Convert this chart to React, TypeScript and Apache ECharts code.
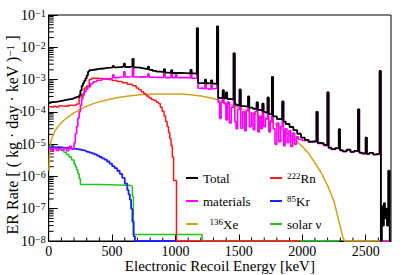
import React, { useEffect, useRef } from "react";
import * as echarts from "echarts";

const FONT = "Liberation Serif";

// [energy keV, rate] step histograms (value holds until next point)
const totalData: [number, number][] = [
  [0, 1.9e-4], [20, 2.0e-4], [40, 2.05e-4], [60, 2.1e-4], [80, 2.2e-4], [100, 2.25e-4], [120, 2.35e-4],
  [140, 2.45e-4], [160, 2.5e-4], [180, 2.6e-4], [200, 2.75e-4], [220, 2.9e-4], [240, 3.3e-4], [250, 4.6e-4],
  [260, 6.4e-4], [270, 7.8e-4], [280, 9.2e-4], [290, 1.1e-3], [300, 1.35e-3], [310, 1.75e-3], [320, 1.95e-3],
  [340, 2.05e-3], [370, 2.15e-3], [400, 2.2e-3], [430, 2.3e-3], [460, 2.35e-3], [490, 2.4e-3], [505, 2.65e-3],
  [515, 2.4e-3], [540, 2.45e-3], [570, 2.5e-3], [592, 3.1e-3], [602, 2.45e-3], [630, 2.5e-3], [660, 4.4e-3],
  [670, 2.4e-3], [700, 2.3e-3], [730, 2.2e-3], [760, 2.1e-3], [782, 2.5e-3], [792, 2.0e-3], [820, 1.85e-3],
  [850, 1.75e-3], [880, 1.7e-3], [908, 2.1e-3], [918, 1.65e-3], [940, 1.6e-3], [965, 1.95e-3], [975, 1.6e-3],
  [1000, 1.6e-3], [1040, 1.58e-3], [1080, 1.55e-3], [1118, 2.0e-3], [1128, 1.55e-3], [1150, 1.5e-3],
  [1168, 3.9e-2], [1178, 7.8e-4], [1200, 7.8e-4], [1232, 1.0e-3], [1242, 7.7e-4], [1260, 7.6e-4],
  [1280, 9.5e-4], [1290, 7.5e-4], [1310, 7.4e-4], [1327, 4.4e-2], [1337, 2.7e-4], [1355, 2.6e-4],
  [1372, 4.7e-4], [1382, 2.6e-4], [1398, 4.0e-4], [1408, 2.5e-4], [1430, 2.45e-4], [1458, 6.5e-3],
  [1468, 1.7e-4], [1485, 1.6e-4], [1505, 5e-4], [1515, 1.5e-4], [1540, 1.45e-4], [1572, 3e-4], [1582, 1.35e-4],
  [1610, 1.25e-4], [1640, 2e-4], [1650, 1.15e-4], [1670, 1.1e-4], [1685, 1.8e-4], [1695, 1.0e-4],
  [1710, 9.5e-5], [1726, 2.8e-4], [1736, 8.5e-5], [1760, 1.2e-3], [1770, 7.2e-5], [1800, 6e-5],
  [1842, 2.1e-4], [1852, 5e-5], [1870, 4.2e-5], [1900, 3.4e-5], [1930, 2.7e-5], [1960, 2.1e-5],
  [1990, 1.6e-5], [2020, 1.35e-5], [2050, 1.2e-5], [2080, 1.25e-5], [2112, 1.0e-4], [2122, 1.1e-5],
  [2150, 1.05e-5], [2170, 9.5e-6], [2198, 4e-4], [2208, 7.8e-6], [2230, 7e-6], [2260, 7.5e-6],
  [2288, 2.9e-5], [2298, 6.5e-6], [2320, 6e-6], [2350, 6.8e-6], [2380, 5.8e-6], [2410, 6.2e-6],
  [2440, 1.2e-4], [2450, 5.5e-6], [2470, 5.2e-6], [2500, 1.6e-5], [2510, 5e-6], [2530, 5.4e-6],
  [2560, 4.8e-6], [2580, 5e-6], [2610, 1.85e-3], [2620, 1e-8], [2628, 1.2e-7], [2636, 3e-8],
  [2644, 1.5e-7], [2652, 5e-8], [2660, 1e-7], [2668, 3e-8], [2678, 1.5e-6], [2690, 1e-8], [2700, 1e-8],
];

const materialsData: [number, number][] = [
  [0, 7.5e-6], [20, 6.2e-6], [40, 7.6e-6], [60, 6.4e-6], [80, 7.2e-6], [100, 6.6e-6], [120, 7.4e-6],
  [140, 6.3e-6], [160, 8.5e-6], [180, 7e-6], [200, 1.1e-5], [210, 2.1e-5], [220, 3.5e-5], [230, 6.3e-5],
  [240, 1.0e-4], [250, 1.6e-4], [260, 2.5e-4], [270, 3.3e-4], [280, 4.2e-4], [295, 5.1e-4], [310, 6e-4],
  [330, 7.5e-4], [350, 8.6e-4], [380, 9.5e-4], [420, 1.05e-3], [460, 1.1e-3], [505, 1.4e-3], [515, 1.15e-3],
  [540, 1.18e-3], [570, 1.2e-3], [592, 1.75e-3], [602, 1.2e-3], [630, 1.22e-3], [660, 2.2e-3], [670, 1.2e-3],
  [700, 1.22e-3], [740, 1.2e-3], [782, 1.5e-3], [792, 1.18e-3], [830, 1.17e-3], [870, 1.16e-3],
  [908, 1.6e-3], [918, 1.15e-3], [940, 1.15e-3], [965, 1.5e-3], [975, 1.15e-3], [1000, 1.4e-3],
  [1010, 1.15e-3], [1050, 1.15e-3], [1090, 1.12e-3], [1118, 1.5e-3], [1128, 1.1e-3], [1150, 1.1e-3],
  [1168, 3.9e-2], [1178, 5.4e-4], [1200, 5.6e-4], [1215, 5.2e-4], [1232, 8e-4], [1242, 5.3e-4],
  [1260, 5e-4], [1280, 7e-4], [1290, 5.2e-4], [1310, 5.4e-4], [1327, 4.4e-2], [1337, 2.0e-4],
  [1348, 6.3e-5], [1360, 2.0e-4], [1372, 3.6e-4], [1382, 1.8e-4], [1398, 5.6e-5], [1410, 2.0e-4],
  [1425, 4.5e-5], [1440, 1.4e-4], [1458, 6.5e-3], [1468, 5e-5], [1478, 3e-5], [1490, 1.2e-4],
  [1505, 4.5e-4], [1515, 3.1e-5], [1530, 1.0e-4], [1545, 2.6e-5], [1558, 1.1e-4], [1572, 2.8e-4],
  [1582, 3.5e-5], [1598, 9e-5], [1612, 2.8e-5], [1626, 1.0e-4], [1640, 1.8e-4], [1650, 2.4e-5],
  [1662, 7e-5], [1675, 3e-5], [1685, 1.6e-4], [1695, 3.5e-5], [1710, 6e-5], [1726, 2.6e-4],
  [1736, 2.4e-5], [1748, 5e-5], [1760, 1.2e-3], [1770, 3e-5], [1785, 1e-5], [1800, 4.5e-5],
  [1815, 1.2e-5], [1830, 3.5e-5], [1842, 2.1e-4], [1852, 9e-6], [1865, 3e-5], [1880, 1.1e-5],
  [1895, 2.6e-5], [1910, 8.5e-6], [1925, 2.2e-5], [1940, 1e-5], [1955, 1.7e-5], [1970, 1.4e-5],
  [2000, 1.3e-5], [2050, 1.15e-5], [2080, 1.2e-5], [2112, 1.0e-4], [2122, 1.05e-5], [2150, 1.0e-5],
  [2170, 9e-6], [2198, 4e-4], [2208, 7.5e-6], [2230, 6.8e-6], [2260, 7.3e-6], [2288, 2.9e-5],
  [2298, 6.3e-6], [2320, 5.9e-6], [2350, 6.6e-6], [2380, 5.7e-6], [2410, 6.1e-6], [2440, 1.2e-4],
  [2450, 5.4e-6], [2470, 5.1e-6], [2500, 1.6e-5], [2510, 4.9e-6], [2530, 5.3e-6], [2560, 4.7e-6],
  [2580, 4.9e-6], [2610, 1.85e-3], [2620, 1e-8], [2700, 1e-8],
];

const radonData: [number, number][] = [
  [0, 1.45e-4], [20, 1.4e-4], [40, 1.5e-4], [60, 1.42e-4], [80, 1.55e-4], [100, 1.48e-4], [120, 1.55e-4],
  [140, 1.5e-4], [160, 1.6e-4], [180, 1.58e-4], [200, 1.65e-4], [220, 1.75e-4], [240, 2.9e-4], [260, 3.5e-4],
  [280, 5.5e-4], [300, 6.3e-4], [320, 1.0e-3], [340, 1.1e-3], [380, 1.08e-3], [420, 1.03e-3], [460, 9.8e-4],
  [500, 9.3e-4], [540, 8.7e-4], [580, 8e-4], [620, 7.2e-4], [660, 6.4e-4], [690, 5.5e-4], [710, 4.8e-4],
  [730, 4.2e-4], [750, 3.6e-4], [770, 3.1e-4], [790, 2.7e-4], [810, 2.4e-4], [830, 2.25e-4], [850, 2.0e-4],
  [865, 1.8e-4], [880, 1.4e-4], [895, 1.05e-4], [910, 7.5e-5], [922, 5e-5], [934, 3.5e-5], [945, 2.3e-5],
  [955, 1.5e-5], [965, 9e-6], [975, 4e-6], [985, 7.5e-7], [1008, 1e-8], [1985, 1e-8],
];

const kryptonData: [number, number][] = [
  [0, 7.9e-6], [20, 8e-6], [40, 7.9e-6], [60, 8e-6], [80, 7.9e-6], [100, 7.8e-6], [120, 7.7e-6],
  [140, 7.6e-6], [160, 7.4e-6], [180, 7.3e-6], [200, 7.1e-6], [220, 6.9e-6], [240, 6.7e-6], [260, 6.4e-6],
  [280, 6.1e-6], [300, 5.8e-6], [320, 5.5e-6], [340, 5.2e-6], [360, 4.8e-6], [380, 4.4e-6], [400, 4e-6],
  [420, 3.6e-6], [440, 3.3e-6], [460, 2.9e-6], [480, 2.5e-6], [500, 2.1e-6], [520, 1.8e-6], [540, 1.5e-6],
  [560, 1.2e-6], [580, 9e-7], [600, 6e-7], [620, 3.8e-7], [630, 2.8e-7], [640, 1.9e-7], [650, 1e-7],
  [660, 4e-8], [670, 1.4e-8], [680, 1e-8], [1000, 1e-8],
];

const xenonData: [number, number][] = [
  [2, 1.5e-6], [5, 4e-6], [10, 8e-6], [20, 1.3e-5], [30, 1.7e-5], [50, 2.6e-5], [80, 3.8e-5], [120, 5.5e-5],
  [160, 7.2e-5], [200, 9.3e-5], [240, 1.15e-4], [300, 1.5e-4], [370, 1.9e-4], [450, 2.3e-4], [500, 2.55e-4],
  [550, 2.8e-4], [630, 3.1e-4], [700, 3.35e-4], [760, 3.5e-4], [850, 3.6e-4], [950, 3.6e-4], [1050, 3.55e-4],
  [1100, 3.45e-4], [1200, 3.1e-4], [1300, 2.6e-4], [1350, 2.25e-4], [1400, 1.9e-4], [1500, 1.35e-4],
  [1600, 9.5e-5], [1700, 6.8e-5], [1760, 5e-5], [1800, 3.8e-5], [1890, 2e-5], [1950, 1.3e-5], [2000, 8.5e-6],
  [2050, 5.2e-6], [2100, 2.6e-6], [2150, 1.3e-6], [2200, 5.2e-7], [2250, 1.7e-7], [2290, 4e-8],
  [2320, 1.3e-8], [2335, 1e-8], [2700, 1e-8],
];

const solarData: [number, number][] = [
  [0, 8.7e-6], [20, 8.3e-6], [40, 7.8e-6], [60, 7.3e-6], [80, 6.8e-6], [100, 6.3e-6], [120, 5.6e-6],
  [140, 4.8e-6], [160, 4e-6], [180, 3.2e-6], [200, 2.4e-6], [210, 2e-6], [220, 1.6e-6], [230, 1.2e-6],
  [240, 8.5e-7], [250, 5.6e-7], [400, 5.4e-7], [550, 5.2e-7], [650, 5e-7], [660, 2.4e-7], [668, 1.6e-8],
  [1210, 1e-8], [2294, 1e-8],
];

const seriesNames = ["Total", "materials", "222Rn", "85Kr", "136Xe", "solar ν"];
const legendRich: Record<string, string> = {
  "222Rn": "{sup|222}{t|Rn}",
  "85Kr": "{sup|85}{t|Kr}",
  "136Xe": "  {sup|136}{t|Xe}",
};
const yTickExponents = [-8, -7, -6, -5, -4, -3, -2, -1];
const xMinorTicks = [100, 200, 300, 400, 600, 700, 800, 900, 1100, 1200, 1300, 1400, 1600, 1700, 1800, 1900,
  2100, 2200, 2300, 2400, 2600];
const yMinorMultipliers = [2, 3, 4, 5, 6, 7, 8, 9];

export default function App() {
  const ref = useRef<HTMLDivElement>(null);
  useEffect(() => {
    if (!ref.current) return;
    const chart = echarts.init(ref.current, null, { renderer: "svg" });

    const yMinor: number[][] = [];
    for (let i = 0; i < yTickExponents.length - 1; i++) {
      for (const m of yMinorMultipliers) yMinor.push([0, m * Math.pow(10, yTickExponents[i])]);
    }

    const lineSeries = (name: string, data: [number, number][], color: string, width: number, step: boolean) => ({
      type: "line",
      name,
      data,
      step: step ? "end" : undefined,
      showSymbol: false,
      symbol: "none",
      clip: false,
      lineStyle: { color, width },
      itemStyle: { color },
    });

    const legendCommon = {
      orient: "vertical",
      top: 171,
      padding: 0,
      itemWidth: 12,
      itemHeight: 2,
      itemGap: 9,
      icon: "rect",
      formatter: (n: string) => legendRich[n] || n,
      textStyle: {
        fontFamily: FONT,
        fontSize: 13,
        lineHeight: 14,
        color: "#000",
        rich: {
          sup: { fontFamily: FONT, fontSize: 9, verticalAlign: "top", color: "#000" },
          t: { fontFamily: FONT, fontSize: 13, lineHeight: 14, color: "#000" },
        },
      },
    };

    chart.setOption({
      animation: false,
      backgroundColor: "#fff",
      grid: {
        left: 48.7, right: 16, top: 15, bottom: 34, show: true, borderColor: "#000", borderWidth: 1,
        outerBoundsMode: "none", containLabel: false,
      },
      xAxis: {
        type: "value",
        min: 0,
        max: 2700,
        interval: 500,
        name: "Electronic Recoil Energy [keV]",
        nameLocation: "middle",
        nameGap: 17,
        nameMoveOverlap: false,
        nameTextStyle: { fontFamily: FONT, fontSize: 15, color: "#000" },
        axisLine: { lineStyle: { color: "#000", width: 1 } },
        axisTick: { inside: true, length: 6.5, lineStyle: { color: "#000" } },
        axisLabel: {
          fontFamily: FONT, fontSize: 14, color: "#000", margin: 3, showMaxLabel: false,
          formatter: (v: number) => String(v),
        },
        splitLine: { show: false },
      },
      yAxis: {
        type: "log",
        logBase: 10,
        min: 1e-8,
        max: 1e-1,
        splitNumber: 8,
        axisLine: { show: true, lineStyle: { color: "#000", width: 1 } },
        axisTick: { inside: true, length: 9, lineStyle: { color: "#000" } },
        axisLabel: {
          margin: 3,
          fontFamily: FONT,
          formatter: (v: number) => {
            const e = Math.round(Math.log10(v));
            return `{b|10}{e|${e < 0 ? "−" : ""}${Math.abs(e)}}`;
          },
          rich: {
            b: { fontFamily: FONT, fontSize: 14, color: "#000" },
            e: { fontFamily: FONT, fontSize: 10, color: "#000", verticalAlign: "top" },
          },
        },
        splitLine: { show: false },
      },
      legend: [
        { ...legendCommon, left: 186, data: ["Total", "materials", "136Xe"] },
        { ...legendCommon, left: 270, data: ["222Rn", "85Kr", "solar ν"] },
      ],
      graphic: [
        {
          type: "text",
          x: 12,
          y: 135,
          rotation: Math.PI / 2,
          style: {
            text: "ER Rate [ ( kg · day · keV ){sup|−1} ]",
            fontFamily: FONT,
            fontSize: 16,
            fill: "#000",
            align: "center",
            verticalAlign: "middle",
            rich: { sup: { fontFamily: FONT, fontSize: 11, fill: "#000", verticalAlign: "top" } },
          },
        },
      ],
      series: [
        lineSeries(seriesNames[5], solarData, "#22c322", 1.5, true),
        lineSeries(seriesNames[4], xenonData, "#d1a21c", 1.5, false),
        lineSeries(seriesNames[3], kryptonData, "#1f1fff", 1.8, true),
        lineSeries(seriesNames[2], radonData, "#ff1a1a", 1.5, true),
        lineSeries(seriesNames[1], materialsData, "#ff00ff", 1.6, true),
        lineSeries(seriesNames[0], totalData, "#000000", 1.8, true),
        {
          type: "custom",
          name: "yMinorTicks",
          silent: true,
          clip: false,
          data: yMinor,
          encode: { x: 0, y: 1 },
          renderItem: (_p: any, api: any) => {
            const c = api.coord([api.value(0), api.value(1)]);
            return { type: "line", shape: { x1: c[0], y1: c[1], x2: c[0] + 5, y2: c[1] }, style: { stroke: "#000", lineWidth: 1 } };
          },
        },
        {
          type: "custom",
          name: "xMinorTicks",
          silent: true,
          clip: false,
          data: xMinorTicks.map((e) => [e, 1e-8]),
          encode: { x: 0, y: 1 },
          renderItem: (_p: any, api: any) => {
            const c = api.coord([api.value(0), api.value(1)]);
            return { type: "line", shape: { x1: c[0], y1: c[1], x2: c[0], y2: c[1] - 3.5 }, style: { stroke: "#000", lineWidth: 1 } };
          },
        },
      ],
    });
    return () => chart.dispose();
  }, []);
  return <div ref={ref} style={{ position: "fixed", left: 0, top: 0, width: 407, height: 275 }} />;
}
